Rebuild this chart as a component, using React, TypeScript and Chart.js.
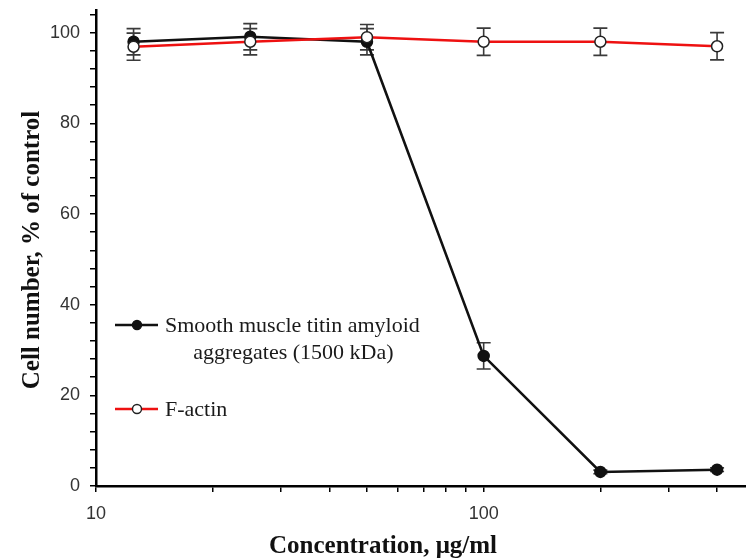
import React, { useEffect, useRef } from 'react';
import { Chart, registerables } from 'chart.js';

Chart.register(...registerables);

// ---- data ----
const concentrations = [12.5, 25, 50, 100, 200, 400];
const titinValues = [98, 99.1, 98, 28.7, 3.1, 3.6];
const titinErrors = [2.9, 2.9, 2.9, 2.9, 0.4, 0.4];
const actinValues = [96.9, 98, 99, 98, 98, 97];
const actinErrors = [3, 2.9, 2.8, 3, 3, 3];
const seriesLabels = ['Smooth muscle titin amyloid\naggregates (1500 kDa)', 'F-actin'];
const xTickValues = [10, 20, 30, 40, 50, 60, 70, 80, 90, 100, 200, 300, 400];
const xLabelledTicks = [10, 100];
const yTickValues = [0, 4, 8, 12, 16, 20, 24, 28, 32, 36, 40, 44, 48, 52, 56, 60, 64, 68, 72, 76, 80, 84, 88, 92, 96, 100, 104];
const yLabelledTicks = [0, 20, 40, 60, 80, 100];
const xTitle = 'Concentration, \u03bcg/ml';
const yTitle = 'Cell number, % of control';

const BLACK = '#111111';
const RED = '#ee1111';
const ERR = '#3a3a3a';
const SERIF = '"Liberation Serif", "Times New Roman", serif';
const SANS = '"Liberation Sans", Arial, sans-serif';

const errorBarsPlugin = {
  id: 'errorBars',
  beforeDatasetsDraw(chart: any) {
    const ctx = chart.ctx;
    const xs = chart.scales.x;
    const ys = chart.scales.y;
    chart.data.datasets.forEach((ds: any) => {
      const errs: number[] = ds.errors || [];
      ds.data.forEach((pt: any, j: number) => {
        const e = errs[j] || 0;
        if (!e) return;
        const x = xs.getPixelForValue(pt.x);
        const yT = ys.getPixelForValue(pt.y + e);
        const yB = ys.getPixelForValue(pt.y - e);
        ctx.save();
        ctx.strokeStyle = ERR;
        ctx.lineWidth = 1.6;
        ctx.beginPath();
        ctx.moveTo(x, yT);
        ctx.lineTo(x, yB);
        ctx.moveTo(x - 7, yT);
        ctx.lineTo(x + 7, yT);
        ctx.moveTo(x - 7, yB);
        ctx.lineTo(x + 7, yB);
        ctx.stroke();
        ctx.restore();
      });
    });
  },
};

const annotationsPlugin = {
  id: 'annotations',
  afterDraw(chart: any) {
    const ctx = chart.ctx;
    ctx.save();
    // axis titles
    ctx.fillStyle = '#111';
    ctx.font = `bold 25px ${SERIF}`;
    ctx.textAlign = 'center';
    ctx.textBaseline = 'alphabetic';
    ctx.fillText(xTitle, 383, 553);
    ctx.save();
    ctx.translate(39, 250);
    ctx.rotate(-Math.PI / 2);
    ctx.fillText(yTitle, 0, 0);
    ctx.restore();

    // legend
    const rows = [
      { ds: chart.data.datasets[0], y: 325 },
      { ds: chart.data.datasets[1], y: 409 },
    ];
    ctx.font = `22px ${SERIF}`;
    rows.forEach(({ ds, y }) => {
      ctx.strokeStyle = ds.borderColor;
      ctx.lineWidth = 2.6;
      ctx.beginPath();
      ctx.moveTo(115, y);
      ctx.lineTo(158, y);
      ctx.stroke();
      ctx.beginPath();
      ctx.arc(137, y, 4.5, 0, Math.PI * 2);
      ctx.fillStyle = ds.pointBackgroundColor;
      ctx.fill();
      ctx.lineWidth = 1.4;
      ctx.strokeStyle = ds.pointBorderColor;
      ctx.stroke();

      const lines = String(ds.label).split('\n');
      ctx.fillStyle = '#1a1a1a';
      ctx.textBaseline = 'middle';
      const w0 = ctx.measureText(lines[0]).width;
      ctx.textAlign = 'left';
      ctx.fillText(lines[0], 165, y + 1);
      ctx.textAlign = 'center';
      for (let k = 1; k < lines.length; k++) {
        ctx.fillText(lines[k], 165 + w0 / 2 + 1, y + 1 + 27 * k);
      }
    });
    ctx.restore();
  },
};

export default function App() {
  const ref = useRef<HTMLCanvasElement | null>(null);

  useEffect(() => {
    if (!ref.current) return;
    const chart = new Chart(ref.current, {
      type: 'line',
      data: {
        datasets: [
          {
            label: seriesLabels[0],
            data: concentrations.map((x, i) => ({ x, y: titinValues[i] })),
            errors: titinErrors,
            borderColor: BLACK,
            backgroundColor: BLACK,
            borderWidth: 2.6,
            pointRadius: 5.5,
            pointBorderWidth: 1.5,
            pointBackgroundColor: BLACK,
            pointBorderColor: BLACK,
            tension: 0,
            order: 1,
          } as any,
          {
            label: seriesLabels[1],
            data: concentrations.map((x, i) => ({ x, y: actinValues[i] })),
            errors: actinErrors,
            borderColor: RED,
            backgroundColor: RED,
            borderWidth: 2.6,
            pointRadius: 5.5,
            pointBorderWidth: 1.5,
            pointBackgroundColor: '#ffffff',
            pointBorderColor: '#222222',
            tension: 0,
            order: 0,
          } as any,
        ],
      },
      options: {
        animation: false,
        responsive: false,
        maintainAspectRatio: false,
        layout: { autoPadding: false, padding: { top: 10, left: 0, right: 0, bottom: 0 } },
        plugins: {
          legend: { display: false },
          tooltip: { enabled: false },
        },
        scales: {
          x: {
            type: 'logarithmic',
            position: 'bottom',
            min: 10,
            max: 475,
            afterBuildTicks: (scale: any) => {
              scale.ticks = xTickValues.map((v) => ({ value: v, major: xLabelledTicks.includes(v) }));
            },
            afterFit: (scale: any) => {
              scale.height = 74;
              scale.paddingLeft = 0;
              scale.paddingRight = 0;
              scale.paddingTop = 0;
              scale.paddingBottom = 0;
            },
            border: { display: true, color: '#000', width: 2.5 },
            grid: { drawOnChartArea: false, drawTicks: true, tickLength: 6, tickColor: '#000', lineWidth: 1.5 },
            ticks: {
              autoSkip: false,
              maxRotation: 0,
              padding: 11,
              color: '#333',
              font: { family: SANS, size: 18 },
              callback: (v: any) => (xLabelledTicks.includes(Number(v)) ? String(v) : ''),
            },
          },
          y: {
            type: 'linear',
            min: 0,
            max: 105,
            afterBuildTicks: (scale: any) => {
              scale.ticks = yTickValues.map((v) => ({ value: v }));
            },
            afterFit: (scale: any) => {
              scale.width = 96;
              scale.paddingLeft = 0;
              scale.paddingRight = 0;
              scale.paddingTop = 0;
              scale.paddingBottom = 0;
            },
            border: { display: true, color: '#000', width: 2.5 },
            grid: { drawOnChartArea: false, drawTicks: true, tickLength: 6, tickColor: '#000', lineWidth: 1.5 },
            ticks: {
              autoSkip: false,
              padding: 10,
              color: '#333',
              font: { family: SANS, size: 18 },
              callback: (v: any) => (yLabelledTicks.includes(Number(v)) ? String(v) : ''),
            },
          },
        },
      } as any,
      plugins: [errorBarsPlugin, annotationsPlugin],
    });
    return () => chart.destroy();
  }, []);

  return (
    <div style={{ position: 'absolute', left: 0, top: 0, width: 746, height: 560, background: '#fff' }}>
      <canvas ref={ref} width={746} height={560} style={{ display: 'block', width: 746, height: 560 }} />
    </div>
  );
}
